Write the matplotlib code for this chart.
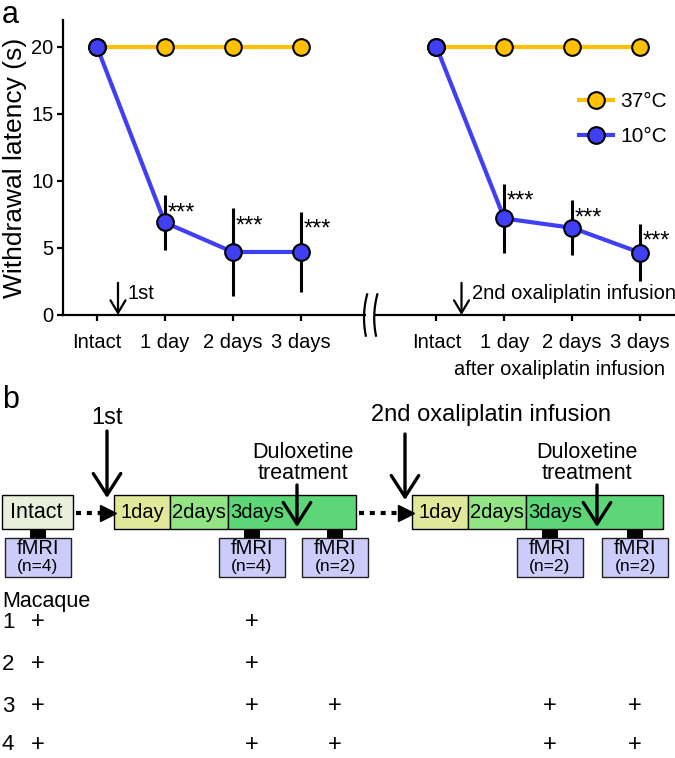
import numpy as np
import matplotlib
matplotlib.use('Agg')
import matplotlib.pyplot as plt
from matplotlib.patches import Rectangle, FancyArrowPatch

plt.rcParams['font.family'] = ['Liberation Sans', 'DejaVu Sans']

# panel a data
days = ["Intact", "1 day", "2 days", "3 days"]
warm_1st = [20, 20, 20, 20]
cold_1st = [20, 6.9, 4.7, 4.7]
cold_1st_err = [0, 2.05, 3.25, 3.0]
warm_2nd = [20, 20, 20, 20]
cold_2nd = [20, 7.2, 6.5, 4.65]
cold_2nd_err = [0, 2.6, 2.05, 2.15]
stars = ["", "***", "***", "***"]

# panel b data
stages = ["1day", "2days", "3days"]
fmri_n = [4, 4, 2, 2, 2]
macaques = ["1", "2", "3", "4"]
scanned = [[1, 1, 0, 0, 0],
           [1, 1, 0, 0, 0],
           [1, 1, 1, 1, 1],
           [1, 1, 1, 1, 1]]

ORANGE = "#FFC000"
BLUE = "#3F3FF5"

fig = plt.figure(figsize=(6.75, 7.58), dpi=100)

# ---------- panel b / labels : pixel coordinate canvas ----------
axb = fig.add_axes([0, 0, 1, 1])
axb.set_xlim(0, 675)
axb.set_ylim(758, 0)
axb.axis("off")

axb.text(2, 15, "a", fontsize=22, va="center", ha="left")
axb.text(2, 400, "b", fontsize=22, va="center", ha="left")


def down_arrow(x, y0, y1, lw=2.4, scale=22):
    axb.add_patch(FancyArrowPatch((x, y0), (x, y1), arrowstyle="->,head_length=0.7,head_width=0.45",
                                  mutation_scale=scale, lw=lw, color="black", shrinkA=0, shrinkB=0))


def dotted_arrow(x0, x1, y):
    axb.plot([x0, x1 - 10], [y, y], ls=(0, (1.2, 1.4)), lw=3, color="black", solid_capstyle="butt")
    axb.plot([x1 - 6], [y], marker=">", ms=12, color="black", mec="black")


# Intact box
axb.add_patch(Rectangle((2, 495), 71, 34, fc="#E8F0DC", ec="black", lw=1))
axb.text(36, 512, "Intact", fontsize=15.5, ha="center", va="center")
dotted_arrow(76, 114, 513)
dotted_arrow(359, 412, 513)

stage_fc = ["#E0E89A", "#92E484", "#5CD677"]
for edges in ([114, 170, 228, 356], [412, 468, 526, 663]):
    for i, lab in enumerate(stages):
        x0, x1 = edges[i], edges[i + 1]
        axb.add_patch(Rectangle((x0, 495), x1 - x0, 34, fc=stage_fc[i], ec="black", lw=1))
        if i < 2:
            axb.text((x0 + x1) / 2, 512, lab, fontsize=14.5, ha="center", va="center")
        else:
            axb.text(x0 + 2, 512, lab, fontsize=14.5, ha="left", va="center")

# infusion arrows
axb.text(107, 418, "1st", fontsize=17, ha="center", va="center")
down_arrow(107, 431, 498)
axb.text(491, 415, "2nd oxaliplatin infusion", fontsize=17, ha="center", va="center")
down_arrow(405, 434, 500)

# duloxetine
for xa, xt in ((297, 303), (597, 587)):
    axb.text(xt, 463, "Duloxetine\ntreatment", fontsize=15.5, ha="center", va="center", linespacing=0.95)
    down_arrow(xa, 485, 527)

# fMRI sessions
session_x = [38, 252, 335, 550, 635]
for sx, n in zip(session_x, fmri_n):
    axb.add_patch(Rectangle((sx - 8, 529), 16, 9, fc="black", ec="black", lw=0))
    axb.add_patch(Rectangle((sx - 33, 538), 66, 39, fc="#CCCCFA", ec="#222222", lw=1))
    axb.text(sx, 549, "fMRI", fontsize=14.5, ha="center", va="center")
    axb.text(sx, 567, f"(n={n})", fontsize=12.5, ha="center", va="center")

# macaque table
axb.text(2, 602, "Macaque", fontsize=15.5, ha="left", va="center")
row_y = [622, 664, 706, 745]
for ry, name, row in zip(row_y, macaques, scanned):
    axb.text(2, ry, name, fontsize=16, ha="left", va="center")
    for sx, s in zip(session_x, row):
        if s:
            axb.text(sx, ry, "+", fontsize=17, ha="center", va="center")

# ---------- panel a ----------
ax = fig.add_axes([63 / 675, 1 - 315 / 758, 611 / 675, 295 / 758])
ax.patch.set_alpha(0)
x1 = np.arange(4)
x2 = np.arange(4) + 5
for xs, warm, cold, err in ((x1, warm_1st, cold_1st, cold_1st_err), (x2, warm_2nd, cold_2nd, cold_2nd_err)):
    ax.plot(xs, warm, color=ORANGE, lw=3, marker="o", ms=12, mfc=ORANGE, mec="black", mew=1.5, zorder=3,
            label="37°C" if xs[0] == 0 else None)
    ax.errorbar(xs[1:], cold[1:], yerr=err[1:], fmt="none", ecolor="black", elinewidth=2.2, capsize=0, zorder=4)
    ax.plot(xs, cold, color=BLUE, lw=3, marker="o", ms=12, mfc=BLUE, mec="black", mew=1.5, zorder=5,
            label="10°C" if xs[0] == 0 else None)
    for xi, yi, ei, st in zip(xs, cold, err, stars):
        if st:
            ax.annotate(st, (xi, yi + ei), xytext=(2, -13), textcoords="offset points",
                        fontsize=17, ha="left", va="center")

ax.set_xlim(-0.5, 8.5)
ax.set_ylim(0, 22)
ax.set_yticks([0, 5, 10, 15, 20])
ax.set_xticks(list(x1) + list(x2))
ax.set_xticklabels(days + days)
for s in ("top", "right"):
    ax.spines[s].set_visible(False)
for s in ("left", "bottom"):
    ax.spines[s].set_linewidth(1.6)
ax.tick_params(axis="both", direction="out", length=4, width=1.6, labelsize=14.5)
ax.tick_params(axis="x", pad=9)
ax.tick_params(axis="y", pad=3)
ax.set_ylabel("Withdrawal latency (s)", fontsize=19, labelpad=3)

# axis break
tr = ax.get_xaxis_transform()
ax.add_patch(Rectangle((3.97, -0.03), 0.13, 0.06, transform=tr, fc="white", ec="none", clip_on=False, zorder=6))
t = np.linspace(-1, 1, 30)
for xb in (3.97, 4.12):
    ax.plot(xb - 0.035 * (1 - t ** 2) + 0.01 * t, 0.07 * t, transform=tr, color="black", lw=1.6,
            clip_on=False, zorder=7)

# infusion markers
for xa in (0.31, 5.37):
    ax.annotate("", xy=(xa, 0), xytext=(xa, 2.4),
                arrowprops=dict(arrowstyle="->,head_length=0.5,head_width=0.3", lw=1.6, color="black",
                                shrinkA=0, shrinkB=0, mutation_scale=18))
ax.text(0.45, 1.6, "1st", fontsize=14.5, ha="left", va="center")
ax.text(5.52, 1.6, "2nd oxaliplatin infusion", fontsize=14.5, ha="left", va="center")
ax.text(6.82, -0.186, "after oxaliplatin infusion", transform=tr, fontsize=14.5, ha="center", va="center")

ax.legend(loc="upper left", bbox_to_anchor=(0.845, 0.755), frameon=False, fontsize=15, numpoints=1,
          handlelength=1.6, handletextpad=0.35, labelspacing=0.75, borderpad=0, borderaxespad=0)

fig.savefig("out.png", dpi=100)
